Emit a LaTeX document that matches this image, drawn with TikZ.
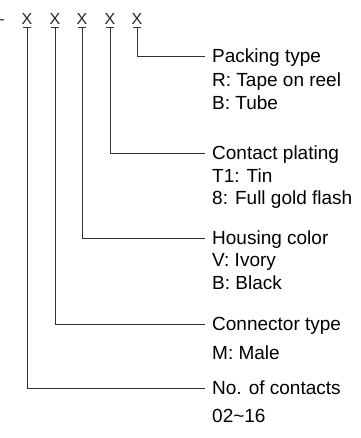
\documentclass[tikz,border=0pt]{standalone}
\usepackage{fontspec}
\setmainfont{Liberation Sans}
\usetikzlibrary{positioning}
\tikzset{
    digit/.style={
        inner sep=3pt, text height=11.5pt, text depth=0pt, font=\fontsize{16}{16}\selectfont, text=black!85
    },
    title/.style={
        anchor=west, inner xsep=7pt, inner ysep=0pt, text height=13.6pt, text depth=0pt, font=\fontsize{19}{19}\selectfont
    },
    choices/.style={
        inner xsep=7pt, inner ysep=0pt, align=left, font=\fontsize{19}{22.5}\selectfont
    },
    lead/.style={
        draw=black!80, line width=0.9pt
    }
}

\begin{document}
\begin{tikzpicture}[x=1pt, y=-1pt]
    \useasboundingbox (0,0) rectangle (360,438);

    % Part number placeholders
    \node[digit] (dash) at (2,19) {-};
    \foreach \i/\x in {1/27, 2/55, 3/82, 4/110, 5/137}
        \node[digit] (x\i) at (\x,19) {X};

    % Field titles
    \node[title] (pack) at (205,56) {Packing type};
    \node[title] (plating) at (205,153) {Contact plating};
    \node[title] (housing) at (205,238) {Housing color};
    \node[title] (ctype) at (205,324) {Connector type};
    \node[title] (contacts) at (205,388) {No. of contacts};

    % Field options
    \node[choices, below=10pt of pack.south west, anchor=north west] (packOpt) {R: Tape on reel\\B: Tube};
    \node[choices, below=8.4pt of plating.south west, anchor=north west, font=\fontsize{19}{22}\selectfont] (platingOpt) {T1: Tin\\8: Full gold flash};
    \node[choices, below=8.4pt of housing.south west, anchor=north west] (housingOpt) {V: Ivory\\B: Black};
    \node[choices, below=14.4pt of ctype.south west, anchor=north west] (ctypeOpt) {M: Male};
    \node[choices, below=14.4pt of contacts.south west, anchor=north west] (contactsOpt) {02\textasciitilde16};

    % Leaders
    \foreach \i/\t in {5/pack, 4/plating, 3/housing, 2/ctype, 1/contacts} {
        \draw[lead] ([xshift=-4pt]x\i.south) -- ([xshift=4pt]x\i.south);
        \draw[lead] (x\i.south) |- (\t.west);
    }

\end{tikzpicture}
\end{document}
